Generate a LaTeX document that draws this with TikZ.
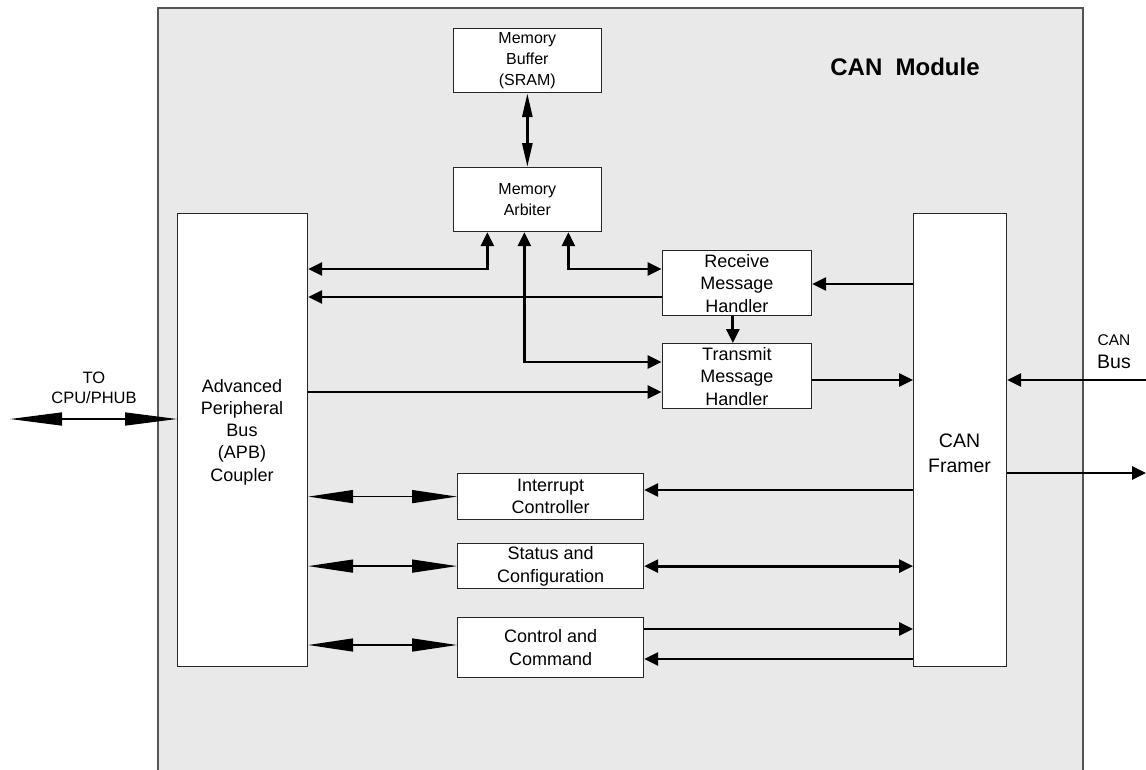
\documentclass[tikz,border=0pt]{standalone}
\usepackage{fontspec}
\setmainfont{Liberation Sans}
\usetikzlibrary{arrows.meta}
\definecolor{modfill}{RGB}{233,233,233}
\definecolor{modline}{RGB}{85,85,85}

\begin{document}
\begin{tikzpicture}[x=1pt, y=-1pt,
  blk/.style={draw=black!85, fill=white, line width=1.2pt, inner sep=0pt, anchor=north west,
    align=center, font=\fontsize{18}{22.5}\selectfont},
  sarrow/.style={line width=2.8pt, -{Triangle[length=14pt,width=13pt]}},
  darrow/.style={line width=2.8pt, {Triangle[length=14pt,width=13pt]}-{Triangle[length=14pt,width=13pt]}},
  memlink/.style={line width=2.8pt, {Triangle[length=24pt,width=10pt]}-{Triangle[length=24pt,width=10pt]}},
  kite/.style={line width=1.4pt, {Triangle[length=#1,width=13pt]}-{Triangle[length=#1,width=13pt]}},
  kite/.default=45pt,
  lbl/.style={align=center, inner sep=0pt, font=\fontsize{18}{22.3}\selectfont}]
  \useasboundingbox (0,0) rectangle (1146,769);
  % the module outline and its title
  \draw[fill=modfill, draw=modline, line width=1.3pt] (158,8) rectangle (1083,780);
  \node[anchor=base, font=\fontsize{24}{28}\selectfont\bfseries] (title) at (905,75) {CAN\ \ Module};
  % memory blocks
  \node[blk, minimum width=148.5, minimum height=64, font=\fontsize{16}{21}\selectfont] (buf) at (452.5,28) {Memory\\Buffer\\(SRAM)};
  \node[blk, minimum width=148.5, minimum height=64, font=\fontsize{16}{21}\selectfont] (arb) at (452.5,167) {Memory\\Arbiter};
  % coupler and framer
  \node[blk, minimum width=130, minimum height=453] (apb) at (177,213) {};
  \node[lbl] (apbtxt) at (242,432) {Advanced\\Peripheral\\Bus\\(APB)\\Coupler};
  \node[blk, minimum width=93, minimum height=453] (fr) at (913,213) {};
  \node[lbl, font=\fontsize{19.5}{25}\selectfont] (frtxt) at (959.5,453) {CAN\\Framer};
  % message handlers
  \node[blk, minimum width=149.5, minimum height=65] (rx) at (661.5,250) {Receive\\Message\\Handler};
  \node[blk, minimum width=149.5, minimum height=65] (tx) at (661.5,343) {Transmit\\Message\\Handler};
  % register blocks
  \node[blk, minimum width=186, minimum height=46] (irq) at (457,473) {Interrupt\\Controller};
  \node[blk, minimum width=186, minimum height=45] (stat) at (457,543) {Status and\\Configuration};
  \node[blk, minimum width=186, minimum height=60] (ctl) at (457,617) {Control and\\Command};
  % outside labels
  \node[lbl, font=\fontsize{16.5}{19.5}\selectfont] (cpulbl) at (94,388) {TO\\CPU/PHUB};
  \node[anchor=base, inner sep=0pt, font=\fontsize{15.5}{18}\selectfont] (buslbl) at (1114,345) {CAN};
  \node[anchor=base, inner sep=0pt, font=\fontsize{19.5}{22}\selectfont] (buslblb) at (1114,368) {Bus};
  \coordinate (cpu) at (10,419);
  \coordinate (busin) at (1146,380);
  \coordinate (busout) at (1146,473);
  % memory paths
  \draw[memlink] (buf.south) -- (arb.north);
  \draw[darrow] (apb.east |- 0,269) -| ([xshift=-40]arb.south);
  \draw[darrow] ([xshift=41]arb.south) |- (rx.west |- 0,269);
  \draw[darrow] ([xshift=-3]arb.south) |- (tx.west |- 0,362);
  % handler paths
  \draw[sarrow] (rx.west |- 0,297) -- (apb.east |- 0,297);
  \draw[sarrow] ([xshift=-4]rx.south) -- ([xshift=-4]tx.north);
  \draw[sarrow] (apb.east |- 0,392) -- (tx.west |- 0,392);
  \draw[sarrow] (tx.east |- 0,380) -- (fr.west |- 0,380);
  \draw[sarrow] (fr.west |- 0,284) -- (rx.east |- 0,284);
  % framer to register blocks
  \draw[sarrow] (fr.west |- 0,490) -- (irq.east |- 0,490);
  \draw[darrow] (stat.east) -- (fr.west |- stat.east);
  \draw[sarrow] (ctl.east |- 0,629) -- (fr.west |- 0,629);
  \draw[sarrow] (fr.west |- 0,659) -- (ctl.east |- 0,659);
  % coupler to register blocks
  \draw[kite] (apb.east |- irq.west) -- (irq.west);
  \draw[kite] (apb.east |- stat.west) -- (stat.west);
  \draw[kite] (apb.east |- 0,645) -- (ctl.west |- 0,645);
  % outside connections
  \draw[kite=52pt] (cpu) -- (apb.west |- cpu);
  \draw[sarrow] (busin) -- (fr.east |- busin);
  \draw[sarrow] (fr.east |- busout) -- (busout);
\end{tikzpicture}
\end{document}
